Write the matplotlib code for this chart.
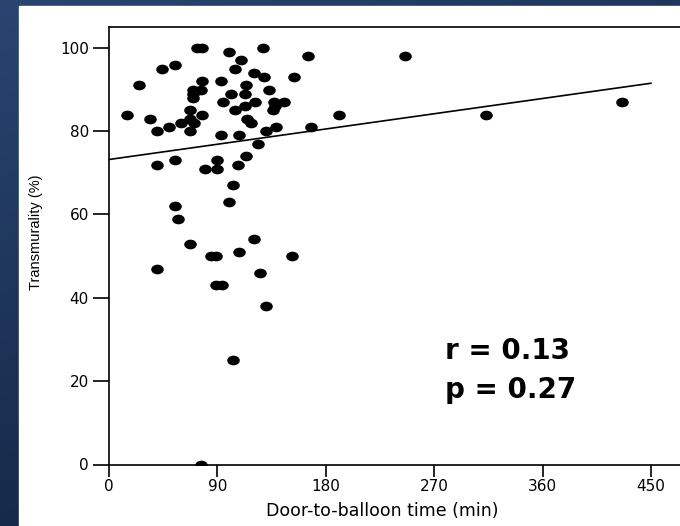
import matplotlib.pyplot as plt
import numpy as np
from matplotlib.path import Path
from matplotlib.transforms import Affine2D

# door-to-balloon time (min) vs transmurality (%)
door_to_balloon = [15, 25, 34, 40, 44, 50, 55, 60, 67, 67, 67, 71, 70, 70, 70,
                   77, 76, 73, 77, 77, 100, 110, 105, 165, 120, 128, 129, 154,
                   93, 114, 133, 101, 113, 95, 121, 113, 137, 138, 136, 145,
                   105, 115, 118, 139, 130, 168, 93, 108, 124, 114, 90, 80,
                   90, 107, 40, 55, 103, 100, 55, 57, 67, 40, 85, 89, 108,
                   120, 125, 152, 89, 94, 130, 103, 76, 246, 191, 313, 426]
transmurality = [84, 91, 83, 80, 95, 81, 96, 82, 85, 83, 80, 82, 90, 89, 88,
                 92, 90, 100, 100, 84, 99, 97, 95, 98, 94, 100, 93, 93,
                 92, 91, 90, 89, 89, 87, 87, 86, 87, 86, 85, 87,
                 85, 83, 82, 81, 80, 81, 79, 79, 77, 74, 73, 71,
                 71, 72, 72, 73, 67, 63, 62, 59, 53, 47, 50, 50, 51,
                 54, 46, 50, 43, 43, 38, 25, 0, 98, 84, 84, 87]

# regression line end points
fit_x = [0, 450]
fit_y = [73.2, 91.5]

x_ticks = [0, 90, 180, 270, 360, 450]
y_ticks = [0, 20, 40, 60, 80, 100]

plt.rcParams['font.family'] = ['DejaVu Sans']

fig = plt.figure(figsize=(6.8, 5.26), dpi=100)

# dark blue slide background with white panel
bg = fig.add_axes([0, 0, 1, 1])
yy, xx = np.mgrid[0:1:200j, 0:1:200j]
shade = 0.65 * yy + 0.35 * xx
top = np.array([0.16, 0.27, 0.44])
bottom = np.array([0.05, 0.11, 0.21])
img = top[None, None, :] * (1 - shade[..., None]) + bottom[None, None, :] * shade[..., None]
bg.imshow(img, extent=[0, 1, 0, 1], aspect='auto', origin='upper')
bg.add_patch(plt.Rectangle((19 / 680, 0), 1, 520 / 526, color='white'))
bg.set_xlim(0, 1)
bg.set_ylim(0, 1)
bg.axis('off')

ax = fig.add_axes([109 / 680, 61.5 / 526, 578 / 680, 437.5 / 526])
ax.set_facecolor('white')

dot = Path.unit_circle().transformed(Affine2D().scale(1.3, 1.0))
ax.scatter(door_to_balloon, transmurality, s=82, marker=dot, color='black',
           linewidths=0, zorder=3)
ax.plot(fit_x, fit_y, color='black', linewidth=1.2, zorder=2)

ax.set_xlim(0, 480)
ax.set_ylim(0, 105)
ax.set_xticks(x_ticks)
ax.set_yticks(y_ticks)
ax.tick_params(axis='x', direction='out', length=8.5, width=1.2, labelsize=11, pad=2)
ax.tick_params(axis='y', direction='out', length=11.5, width=1.2, labelsize=11, pad=3)
for side in ['left', 'bottom', 'top', 'right']:
    ax.spines[side].set_linewidth(1.2)

ax.set_xlabel('Door-to-balloon time (min)', fontsize=12.5)
ax.xaxis.set_label_coords(0.472, -0.085)
ax.set_ylabel('Transmurality (%)', fontsize=10.5, family='Liberation Sans')
ax.yaxis.set_label_coords(-0.115, 0.53)

ax.text(279, 25.3, 'r = 0.13', fontsize=20, fontweight='bold', va='baseline', ha='left')
ax.text(279, 16.0, 'p = 0.27', fontsize=20, fontweight='bold', va='baseline', ha='left')

fig.savefig('out.png', dpi=100)
